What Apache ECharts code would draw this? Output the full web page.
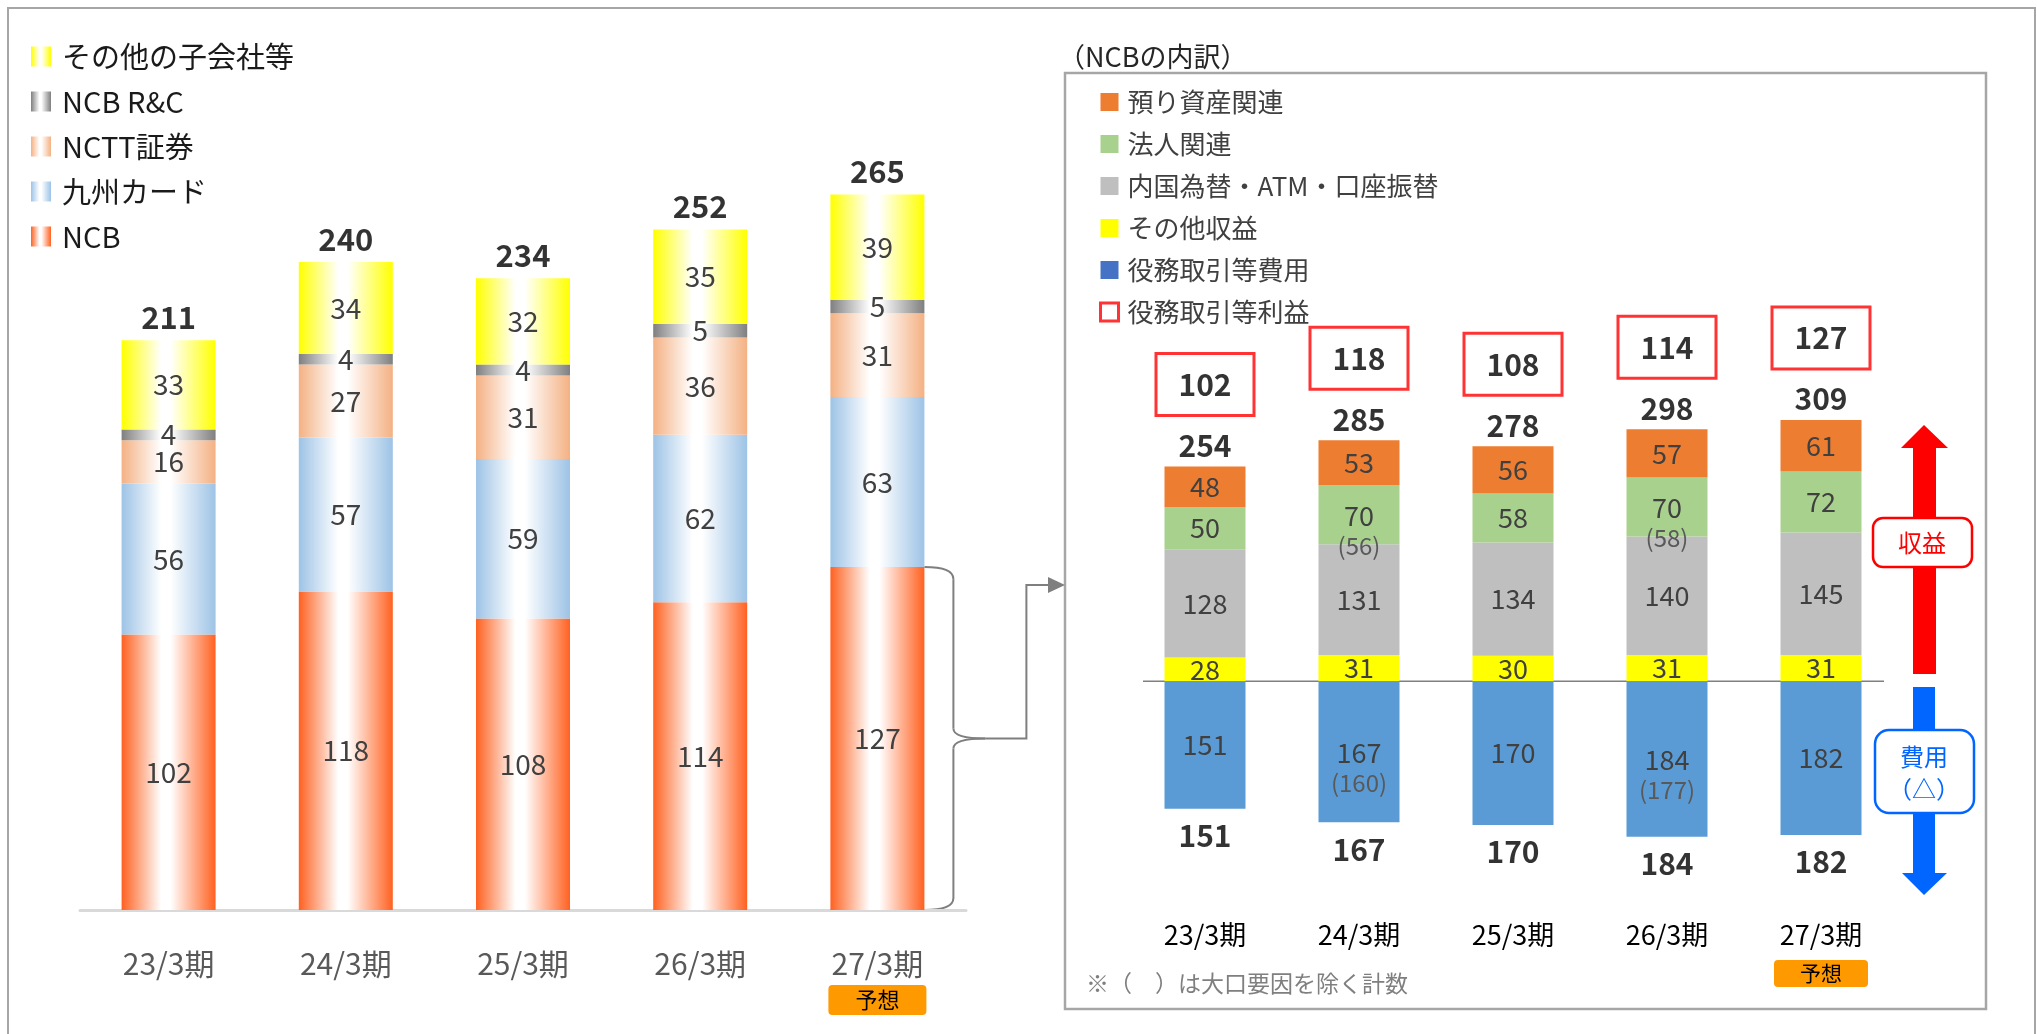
<!DOCTYPE html>
<html><head><meta charset="utf-8">
<script src="https://cdn.jsdelivr.net/npm/echarts@6/dist/echarts.min.js"></script>
<style>html,body{margin:0;padding:0;background:#fff}#c{width:2037px;height:1034px}</style>
</head><body><div id="c"></div>
<script>
// ---- data ----
const categories = ['23/3期','24/3期','25/3期','26/3期','27/3期'];
const forecastIndex = 4;
const forecastTag = '予想';
// left: group companies
const ncb = [102,118,108,114,127];
const kyushuCard = [56,57,59,62,63];
const nctt = [16,27,31,36,31];
const ncbRC = [4,4,4,5,5];
const otherSubs = [33,34,32,35,39];
// right: NCB breakdown
const otherIncome = [28,31,30,31,31];
const domesticFx = [128,131,134,140,145];
const corporate = [50,70,58,70,72];
const corporateAdj = [null,56,null,58,null];
const assets = [48,53,56,57,61];
const expense = [151,167,170,184,182];
const expenseAdj = [null,160,null,177,null];
const profit = [102,118,108,114,127];

const FONT = "'Noto Sans CJK JP','Noto Sans',sans-serif";
function grad(c){ return {type:'linear',x:0,y:0,x2:1,y2:0,colorStops:[{offset:0,color:c},{offset:0.42,color:'#ffffff'},{offset:0.52,color:'#ffffff'},{offset:1,color:c}]}; }
const sumArr = arrs => arrs[0].map((_,i)=>arrs.reduce((s,a)=>s+a[i],0));
const leftTotal = sumArr([ncb,kyushuCard,nctt,ncbRC,otherSubs]);
const revenueTotal = sumArr([otherIncome,domesticFx,corporate,assets]);

function leftBar(name, data, color){
  return {name, type:'bar', xAxisIndex:0, yAxisIndex:0, stack:'grp', barWidth:94, data,
    itemStyle:{color:grad(color)},
    label:{show:true, position:'inside', fontSize:28, color:'#404040', fontFamily:FONT},
    emphasis:{disabled:true}};
}
function rightBar(name, data, color, sub){
  return {name, type:'bar', xAxisIndex:1, yAxisIndex:1, stack:'ncb', barWidth:81,
    data: data.map((v,i)=> sub && sub[i]!=null ? {value:v, label:{offset:[0,15]}} : v),
    itemStyle:{color},
    label:{show:true, position:'inside',
      formatter: p => { const v=Math.abs(p.value); return sub && sub[p.dataIndex]!=null ? `{v|${v}}\n{s|(${sub[p.dataIndex]})}` : `{v|${v}}`; },
      rich:{v:{fontSize:27,lineHeight:32,color:'#404040',fontFamily:FONT}, s:{fontSize:24,lineHeight:28,color:'#595959',fontFamily:FONT}}},
    emphasis:{disabled:true}};
}

const chart = echarts.init(document.getElementById('c'), null, {renderer:'canvas'});
const option = {
  animation:false,
  textStyle:{fontFamily:FONT},
  grid:[
    {left:80, top:100, width:886, height:810, outerBoundsMode:'none', containLabel:false},
    {left:1128, top:343, width:770, height:558, outerBoundsMode:'none', containLabel:false}
  ],
  xAxis:[
    {type:'category', gridIndex:0, data:categories, axisTick:{show:false},
     axisLine:{lineStyle:{color:'#D9D9D9', width:3}},
     axisLabel:{margin:36, interval:0,
       formatter:(v,i)=> i===forecastIndex ? `{a|${v}}\n{b|${forecastTag}}` : `{a|${v}}`,
       rich:{a:{fontSize:30,lineHeight:36,color:'#595959',fontFamily:FONT},
             b:{fontSize:22,color:'#000',backgroundColor:'#FF9900',width:98,height:30,lineHeight:36,align:'center',borderRadius:4,fontFamily:FONT}}}},
    {type:'category', gridIndex:1, data:categories, axisTick:{show:false}, axisLine:{show:false},
     axisLabel:{margin:19, interval:0,
       formatter:(v,i)=> i===forecastIndex ? `{a|${v}}\n{b|${forecastTag}}` : `{a|${v}}`,
       rich:{a:{fontSize:27,lineHeight:30,color:'#000',fontFamily:FONT},
             b:{fontSize:21,color:'#000',backgroundColor:'#FF9900',width:94,height:27,lineHeight:47,align:'center',borderRadius:4,fontFamily:FONT}}}}
  ],
  yAxis:[
    {type:'value', gridIndex:0, min:0, max:300, show:false, splitLine:{show:false}},
    {type:'value', gridIndex:1, min:-260, max:400, show:false, splitLine:{show:false}}
  ],
  legend:[
    {orient:'vertical', left:26, top:37, itemWidth:20, itemHeight:20, itemGap:16, icon:'rect', selectedMode:false,
     textStyle:{fontSize:29, color:'#1a1a1a', padding:[0,0,0,6], fontFamily:FONT},
     data:['その他の子会社等','NCB R&C','NCTT証券','九州カード','NCB']},
    {orient:'vertical', left:1094, top:84, itemWidth:18, itemHeight:18, itemGap:16, icon:'rect', selectedMode:false,
     textStyle:{fontSize:26, color:'#404040', padding:[0,0,0,4], fontFamily:FONT},
     data:['預り資産関連','法人関連','内国為替・ATM・口座振替','その他収益',
       {name:'役務取引等費用', itemStyle:{color:'#4472C4'}},
       {name:'役務取引等利益', itemStyle:{color:'#ffffff', borderColor:'#FF0000', borderWidth:3}}]}
  ],
  series:[
    leftBar('NCB', ncb, '#FF6121'),
    leftBar('九州カード', kyushuCard, '#9DC3E6'),
    leftBar('NCTT証券', nctt, '#F4B183'),
    leftBar('NCB R&C', ncbRC, '#7F7F7F'),
    leftBar('その他の子会社等', otherSubs, '#FFFF00'),
    {type:'scatter', xAxisIndex:0, yAxisIndex:0, symbolSize:0, data:leftTotal, silent:true, z:5,
     itemStyle:{color:'rgba(0,0,0,0)'},
     label:{show:true, position:'top', distance:8, fontSize:31, fontWeight:'bold', color:'#000', lineHeight:30, fontFamily:FONT}},
    rightBar('その他収益', otherIncome, '#FFFF00'),
    rightBar('内国為替・ATM・口座振替', domesticFx, '#BFBFBF'),
    rightBar('法人関連', corporate, '#A9D18E', corporateAdj),
    rightBar('預り資産関連', assets, '#ED7D31'),
    rightBar('役務取引等費用', expense.map(v=>-v), '#5B9BD5', expenseAdj),
    {name:'役務取引等利益', type:'scatter', xAxisIndex:1, yAxisIndex:1, symbolSize:0, data:revenueTotal, silent:true, z:5,
     itemStyle:{color:'rgba(0,0,0,0)'},
     label:{show:true, position:'top', distance:4,
       formatter:p=>`{box|${profit[p.dataIndex]}}\n{tot|${p.value}}`,
       rich:{box:{width:98,height:62,lineHeight:88,borderColor:'#FF0000',borderWidth:3,fontSize:30,fontWeight:'bold',color:'#000',align:'center',fontFamily:FONT},
             tot:{fontSize:30,fontWeight:'bold',color:'#000',lineHeight:34,fontFamily:FONT}}}},
    {type:'scatter', xAxisIndex:1, yAxisIndex:1, symbolSize:0, data:expense.map(v=>-v), silent:true, z:5,
     itemStyle:{color:'rgba(0,0,0,0)'},
     label:{show:true, position:'bottom', distance:12, fontSize:30, fontWeight:'bold', color:'#000', lineHeight:30, fontFamily:FONT,
       formatter:p=>String(Math.abs(p.value))}}
  ]
};
chart.setOption(option);

// ---- annotations derived from the axes ----
const gray = '#7F7F7F';
const L = (a)=>chart.convertToPixel({xAxisIndex:0,yAxisIndex:0}, a);
const R = (a)=>chart.convertToPixel({xAxisIndex:1,yAxisIndex:1}, a);
const topP = L([categories[forecastIndex], ncb[forecastIndex]]);
const botP = L([categories[forecastIndex], 0]);
const bx = topP[0] + 47, ty = topP[1], by = botP[1];
const xm = bx + 29, tip = bx + 61, my = (ty+by)/2;
const panel = {x:1065, y:73, w:921, h:936};
const z0a = R([categories[0], 0]), z0b = R([categories[categories.length-1], 0]);
const st = {stroke:gray, lineWidth:2, fill:'none'};
const graphics = [
  {type:'rect', silent:true, shape:{x:8,y:8,width:2027,height:1050}, style:{fill:'none', stroke:'#A6A6A6', lineWidth:2}},
  {type:'rect', silent:true, shape:{x:panel.x,y:panel.y,width:panel.w,height:panel.h}, style:{fill:'none', stroke:'#A6A6A6', lineWidth:2.5}},
  {type:'text', silent:true, x:1058, y:57, style:{text:'（NCBの内訳）', fontSize:27, fill:'#262626', fontFamily:FONT, textAlign:'left', textVerticalAlign:'middle'}},
  {type:'text', silent:true, x:1086, y:983, style:{text:'※（　）は大口要因を除く計数', fontSize:23, fill:'#7F7F7F', fontFamily:FONT, textAlign:'left', textVerticalAlign:'middle'}},
  {type:'line', silent:true, shape:{x1:z0a[0]-62, y1:z0a[1], x2:z0b[0]+63, y2:z0b[1]}, style:{stroke:'#808080', lineWidth:1.5}},
  // brace
  {type:'bezierCurve', silent:true, shape:{x1:bx,y1:ty,cpx1:xm,cpy1:ty,x2:xm,y2:ty+12}, style:st},
  {type:'line', silent:true, shape:{x1:xm,y1:ty+12,x2:xm,y2:my-10}, style:st},
  {type:'bezierCurve', silent:true, shape:{x1:xm,y1:my-10,cpx1:xm,cpy1:my,x2:tip,y2:my}, style:st},
  {type:'bezierCurve', silent:true, shape:{x1:tip,y1:my,cpx1:xm,cpy1:my,x2:xm,y2:my+10}, style:st},
  {type:'line', silent:true, shape:{x1:xm,y1:my+10,x2:xm,y2:by-12}, style:st},
  {type:'bezierCurve', silent:true, shape:{x1:xm,y1:by-12,cpx1:xm,cpy1:by,x2:bx,y2:by}, style:st},
  {type:'polyline', silent:true, shape:{points:[[tip,my],[tip+41,my],[tip+41,585],[panel.x-16,585]]}, style:st},
  {type:'polygon', silent:true, shape:{points:[[panel.x-17,577],[panel.x,585],[panel.x-17,593]]}, style:{fill:gray}},
  // revenue arrow
  {type:'polygon', silent:true, shape:{points:[[1924,425],[1948,448],[1936,448],[1936,674],[1913,674],[1913,448],[1901,448]]}, style:{fill:'#FF0000'}},
  {type:'rect', silent:true, shape:{x:1873,y:518,width:99,height:49,r:10}, style:{fill:'#fff', stroke:'#FF0000', lineWidth:2.5}},
  {type:'text', silent:true, x:1922, y:543, style:{text:'収益', fontSize:24, fill:'#FF0000', fontFamily:FONT, textAlign:'center', textVerticalAlign:'middle'}},
  // expense arrow
  {type:'polygon', silent:true, shape:{points:[[1913,687],[1935,687],[1935,873],[1947,873],[1924,895],[1902,873],[1913,873]]}, style:{fill:'#0066FF'}},
  {type:'rect', silent:true, shape:{x:1875,y:730,width:99,height:83,r:14}, style:{fill:'#fff', stroke:'#0066FF', lineWidth:2.5}},
  {type:'text', silent:true, x:1924, y:757, style:{text:'費用', fontSize:24, fill:'#0066FF', fontFamily:FONT, textAlign:'center', textVerticalAlign:'middle'}},
  {type:'text', silent:true, x:1924, y:789, style:{text:'（△）', fontSize:24, fill:'#0066FF', fontFamily:FONT, textAlign:'center', textVerticalAlign:'middle'}}
];
chart.setOption({graphic:graphics});
</script></body></html>
